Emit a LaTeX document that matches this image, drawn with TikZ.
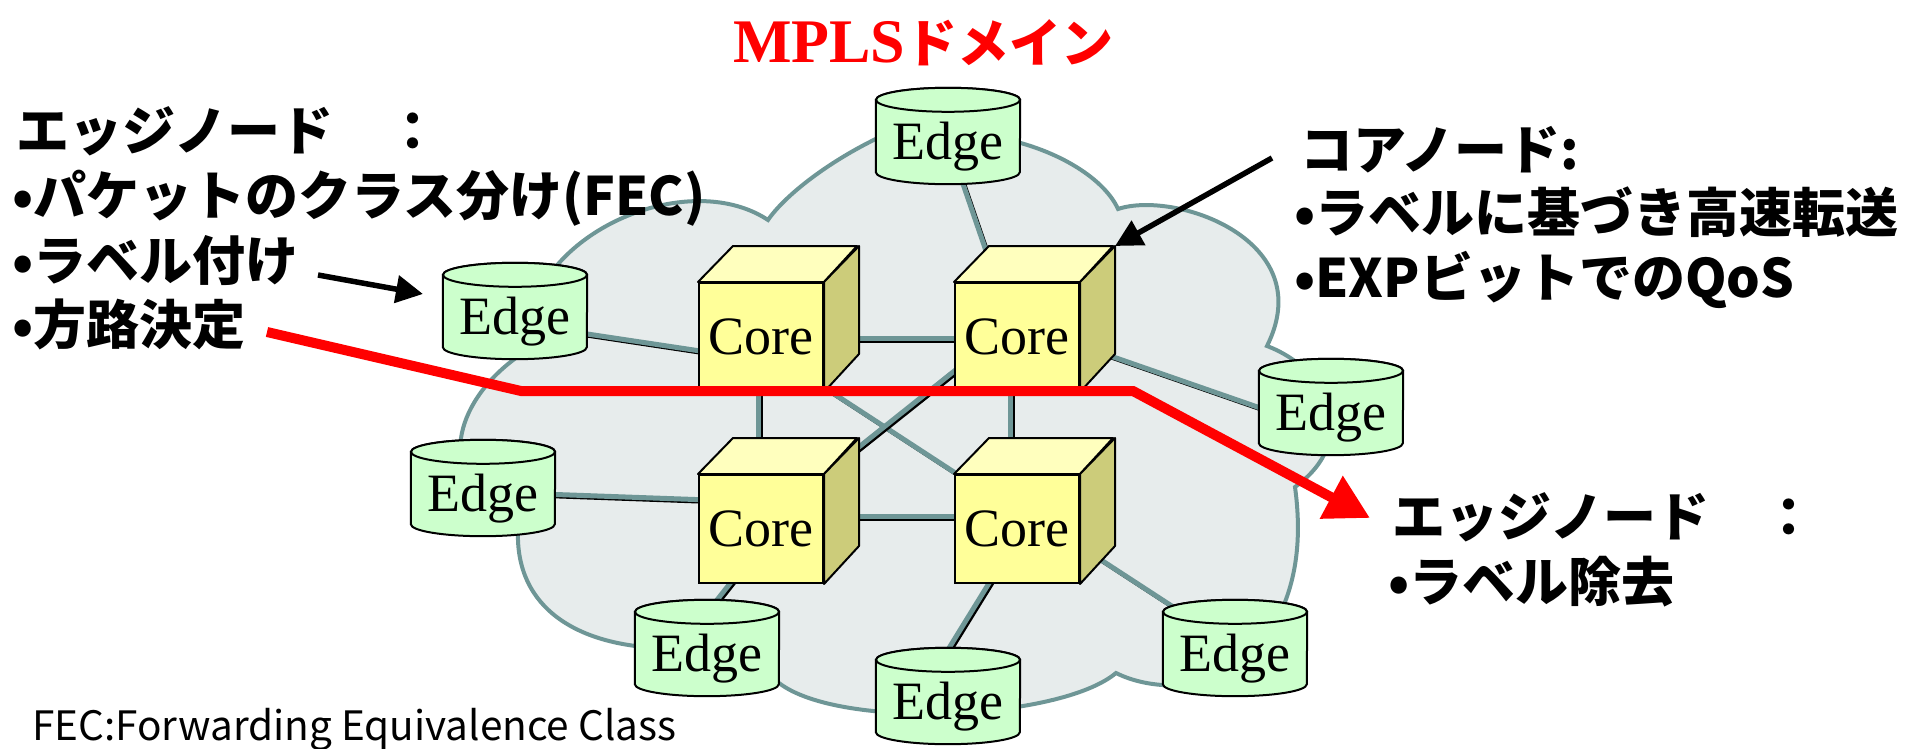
\documentclass[tikz,border=0pt]{standalone}
\usepackage{fontspec}
\setmainfont{Liberation Serif}
\newfontfamily\jpfont{Noto Sans CJK JP}
\usetikzlibrary{arrows.meta,calc,backgrounds}

\definecolor{cloudfill}{RGB}{231,236,236}
\definecolor{cloudline}{RGB}{110,150,150}
\definecolor{edgegreen}{RGB}{204,255,204}
\definecolor{corefront}{RGB}{255,255,153}
\definecolor{coretop}{RGB}{255,255,190}
\definecolor{coreside}{RGB}{204,204,122}
\definecolor{routered}{RGB}{255,0,0}

\begin{document}
\begin{tikzpicture}[x=1pt,y=1pt,yscale=-1,xscale=1,
  edgenode/.style={minimum width=144pt,minimum height=72pt,inner sep=0pt,
    text height=47pt,text depth=0pt,font=\fontsize{54}{54}\selectfont},
  corenode/.style={draw,line width=2pt,fill=corefront,minimum width=124pt,
    minimum height=108pt,inner sep=0pt,font=\fontsize{54}{54}\selectfont},
  jptext/.style={inner sep=0pt,anchor=base west,
    font=\jpfont\bfseries\fontsize{53}{53}\selectfont},
  edgebody/.style={draw,line width=2pt,fill=edgegreen},
  coreface/.style={draw,line width=2pt,line join=round},
  cloudshape/.style={draw=cloudline,line width=4pt,fill=cloudfill},
  linkbase/.style={draw=black,line width=3.5pt},
  linkshade/.style={draw=cloudline,line width=5pt,
    transform canvas={xshift=-2.2pt,yshift=2.2pt}},
  pointer/.style={line width=5.5pt,-{Triangle[length=27pt,width=27pt]}},
  route/.style={draw=routered,line width=10pt,-{Triangle[length=44pt,width=46pt]}}]
\useasboundingbox (0,0) rectangle (1914,749);

% Core nodes
\node[corenode] (c1) at (761,337) {Core};
\node[corenode] (c2) at (1017,337) {Core};
\node[corenode] (c3) at (761,529) {Core};
\node[corenode] (c4) at (1017,529) {Core};

% Edge nodes
\node[edgenode] (e1) at (948,136) {Edge};
\node[edgenode] (e2) at (515,311) {Edge};
\node[edgenode] (e3) at (483,488) {Edge};
\node[edgenode] (e4) at (707,648) {Edge};
\node[edgenode] (e5) at (948,696) {Edge};
\node[edgenode] (e6) at (1235,648) {Edge};
\node[edgenode] (e7) at (1331,407) {Edge};

% Text Node
\node[inner sep=0pt,anchor=base west,text=routered] (title) at (733,63)
  {\fontsize{62}{62}\selectfont\bfseries MPLS\jpfont\fontsize{52}{52}\selectfont ドメイン};
% Text Node
\node[jptext] (l1) at (16,150) {エッジノード　：};
\node[jptext] (l2) at (12,215) {•パケットのクラス分け(FEC)};
\node[jptext] (l3) at (12,280) {•ラベル付け};
\node[jptext] (l4) at (12,344) {•方路決定};
% Text Node
\node[jptext] (r1) at (1300,169) {コアノード:};
\node[jptext] (r2) at (1294,232) {•ラベルに基づき高速転送};
\node[jptext] (r3) at (1294,297) {•EXPビットでのQoS};
% Text Node
\node[jptext] (s1) at (1392,536) {エッジノード　：};
\node[jptext] (s2) at (1388,601) {•ラベル除去};
% Text Node
\node[inner sep=0pt,anchor=base west,font=\jpfont\fontsize{40.5}{40.5}\selectfont] (fec) at (32,740)
  {FEC:Forwarding Equivalence Class};

\begin{scope}[on background layer]
%Shape: Cloud
\draw[cloudshape] (768,220) .. controls (785,195) and (835,155) .. (900,128) -- (1000,138)
  .. controls (1060,150) and (1105,180) .. (1118,209)
  .. controls (1175,190) and (1320,240) .. (1267,346)
  .. controls (1330,370) and (1360,440) .. (1295,487)
  .. controls (1305,560) and (1290,620) .. (1240,670)
  .. controls (1200,690) and (1150,690) .. (1116,673)
  .. controls (1060,720) and (840,730) .. (779,683) -- (660,648)
  .. controls (580,645) and (515,610) .. (518,530) -- (490,500)
  .. controls (440,470) and (455,400) .. (520,355) -- (540,290)
  .. controls (580,215) and (700,175) .. (768,220) -- cycle;
% Connection
\foreach \a/\ax/\ay/\b/\bx/\by in {e1/0/0/c2/0/0, e2/0/14/c1/0/25, e3/0/6/c3/0/-25,
    e4/-24/0/c3/16/0, e5/-25/0/c4/9/0, e6/0/0/c4/0/-23, e7/0/27/c2/0/-12,
    c1/0/4/c2/0/4, c3/0/-10/c4/0/-10, c1/0/0/c3/0/0, c2/-4/0/c4/-4/0,
    c1/0/10/c4/0/-15, c3/0/0/c2/0/-12} {
  \draw[linkbase] ($(\a)+(\ax,\ay)$) -- ($(\b)+(\bx,\by)$);
  \draw[linkshade] ($(\a)+(\ax,\ay)$) -- ($(\b)+(\bx,\by)$);
}
%Shape: Cylinder
\foreach \i in {1,...,7} {
  \draw[edgebody] (e\i.north west) -- (e\i.south west)
    arc[start angle=180,end angle=0,x radius=72,y radius=12] -- (e\i.north east)
    arc[start angle=0,end angle=-180,x radius=72,y radius=12] -- cycle;
  \draw[edgebody] (e\i.north) ellipse[x radius=72,y radius=12];
}
%Shape: Cube
\foreach \n in {c1,c2,c3,c4} {
  \draw[coreface,fill=coretop] (\n.north west) -- ++(35,-36) -- ++(124,0) -- (\n.north east) -- cycle;
  \draw[coreface,fill=coreside] (\n.north east) -- ++(35,-36) -- ++(0,108) -- (\n.south east) -- cycle;
}
\end{scope}

% Arrows
\coordinate (a1s) at (318,275);
\coordinate (a1e) at (423,294);
\coordinate (a2s) at (1272,158);
\coordinate (a2e) at ($(c2.north east)+(35,-36)$);
\draw[pointer] (a1s) -- (a1e);
\draw[pointer] (a2s) -- (a2e);
\coordinate (rt0) at (267,332);
\coordinate (rt1) at (521,391);
\coordinate (rt2) at (1133,391);
\coordinate (rt3) at (1370,518);
\draw[route] (rt0) -- (rt1) -- (rt2) -- (rt3);

\end{tikzpicture}
\end{document}
